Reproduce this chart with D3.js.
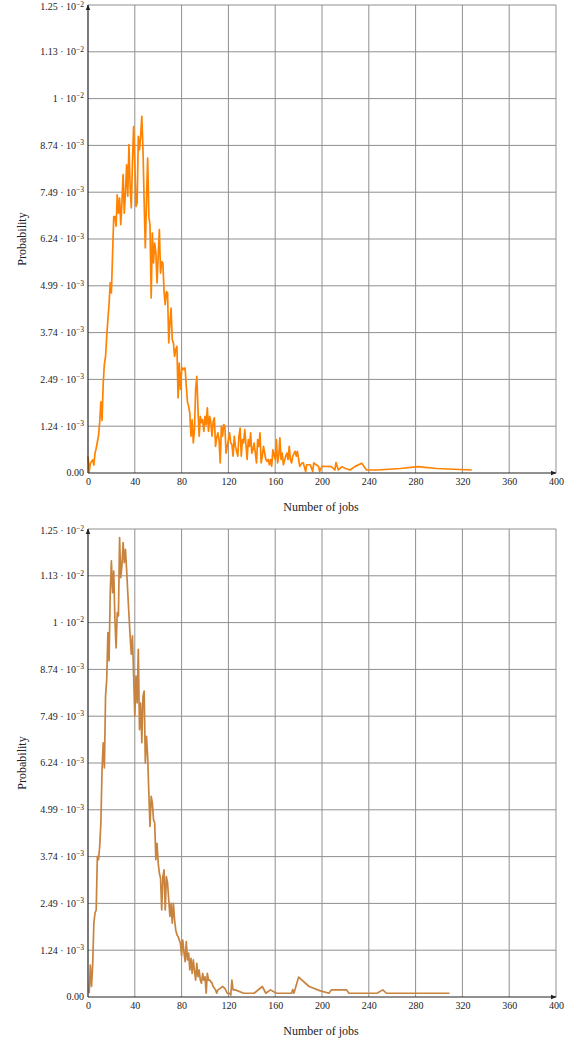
<!DOCTYPE html>
<html>
<head>
<meta charset="utf-8">
<script src="https://cdn.jsdelivr.net/npm/d3@7"></script>
<style>
  body { margin: 0; background: #fff; }
  svg text { font-family: "Liberation Serif", "DejaVu Serif", serif; fill: #222; }
</style>
</head>
<body>
<script>
// values; probabilities are in units of 1e-3

// upper plot (orange)
var jobsA = [0,1,2,4,5,6,7,9,10,11,
  12,13,14,15,16,17,18,19,20,22,
  23,24,25,26,27,28,29,30,31,32,
  33,34,35,36,37,38,39,40,41,42,
  43,44,45,46,47,48,49,50,51,52,
  53,54,55,56,57,58,59,60,61,62,
  63,64,65,66,67,68,69,70,71,72,
  73,74,75,76,77,78,79,80,81,82,
  83,84,85,86,87,88,89,90,91,92,
  93,94,95,96,97,98,99,100,101,102,
  103,104,105,106,107,108,109,110,111,112,
  113,114,115,116,117,118,120,121,122,123,
  124,125,126,128,129,130,131,132,133,134,
  136,137,138,139,140,141,142,144,145,146,
  147,148,149,150,152,153,154,155,156,157,
  158,160,161,162,163,164,165,166,167,169,
  170,171,172,173,174,175,177,178,179,180,
  181,183,184,186,187,190,192,193,195,197,
  198,200,208,211,212,214,217,220,224,228,
  234,238,247,267,282,298,328];
var probA = [0.44,0.02,0.26,0.35,0.21,0.53,0.66,1.0,1.35,1.9,
  1.4,2.4,2.9,3.1,3.64,4.1,4.5,5.07,4.8,6.84,
  6.84,6.58,7.42,6.93,7.33,6.62,7.2,7.96,6.93,7.47,
  8.22,7.38,8.76,7.64,7.07,8.27,9.24,8.27,7.11,7.2,
  8.98,8.62,8.98,9.51,8.62,7.2,6.0,7.29,8.4,6.84,
  6.6,4.67,6.4,5.6,6.13,5.87,5.07,5.78,6.49,5.33,
  5.64,5.6,4.84,4.49,4.84,4.8,3.47,4.0,4.4,3.56,
  3.47,3.11,3.29,3.38,2.0,2.93,2.23,2.72,2.8,2.76,
  2.8,2.32,1.9,1.78,1.6,0.98,1.42,0.8,1.16,2.23,
  2.58,1.69,0.98,1.51,1.34,1.42,1.11,1.51,1.29,1.74,
  1.11,1.51,1.34,0.98,1.38,1.47,0.71,0.94,1.07,0.89,
  0.27,1.25,0.98,1.29,1.25,0.53,0.89,1.07,0.8,0.76,
  0.45,0.98,0.71,0.45,0.98,1.2,0.45,0.89,0.8,1.16,
  0.36,0.89,0.71,1.07,0.53,0.62,0.8,0.27,0.89,0.71,
  1.07,0.27,0.45,0.71,0.36,0.31,0.36,0.22,0.36,0.18,
  0.62,0.36,0.89,0.27,0.45,0.94,0.36,0.53,0.22,0.45,
  0.53,0.36,0.71,0.36,0.27,0.45,0.58,0.45,0.58,0.36,
  0.18,0.27,0.27,0.04,0.22,0.22,0.04,0.27,0.22,0.18,
  0.04,0.18,0.17,0.08,0.28,0.08,0.17,0.12,0.08,0.17,
  0.26,0.08,0.08,0.12,0.17,0.12,0.08];

// lower plot (brown)
var jobsB = [1,2,3,4,5,6,7,8,9,10,
  11,12,13,14,15,16,17,18,19,20,
  21,22,23,24,25,26,27,28,29,30,
  31,32,33,34,35,36,37,38,39,40,
  41,42,43,44,45,46,47,48,49,50,
  51,52,53,54,55,56,57,58,59,60,
  61,62,63,64,65,66,67,68,69,70,
  71,72,73,74,75,76,77,78,79,80,
  81,82,83,84,85,86,87,88,89,90,
  91,92,93,94,95,96,97,98,99,100,
  101,102,103,104,106,107,109,110,111,113,
  115,117,119,121,122,123,124,126,133,142,
  149,152,156,161,174,175,176,180,189,198,
  206,208,221,223,247,252,255,309];
var probB = [0.1,0.85,0.28,0.85,1.97,2.24,2.32,3.75,3.66,4.02,
  4.64,6.06,6.78,6.11,8.02,8.47,9.72,8.96,10.78,11.63,
  10.78,11.36,10.07,9.31,10.25,10.16,12.25,11.18,11.5,12.12,
  11.58,11.94,11.4,10.78,10.2,9.63,9.14,9.63,8.56,7.49,
  8.56,7.84,9.27,7.13,7.84,6.78,8.02,8.16,6.24,6.95,
  6.42,5.44,4.55,5.35,5.17,4.73,4.64,3.66,4.1,3.57,
  3.3,3.17,2.32,3.21,3.39,2.32,3.21,3.04,2.59,2.15,
  2.5,1.97,2.5,2.06,1.79,1.66,1.61,1.52,1.43,1.1,
  1.52,1.2,0.94,1.48,0.99,1.17,0.72,1.03,0.63,0.99,
  0.7,0.45,0.9,0.54,0.72,0.45,0.37,0.63,0.45,0.54,
  0.1,0.63,0.45,0.45,0.37,0.28,0.19,0.1,0.19,0.23,
  0.28,0.23,0.1,0.1,0.05,0.45,0.19,0.19,0.1,0.1,
  0.28,0.1,0.19,0.1,0.1,0.2,0.1,0.53,0.28,0.17,
  0.1,0.19,0.19,0.1,0.1,0.19,0.1,0.1];

var xTicks = [0, 40, 80, 120, 160, 200, 240, 280, 320, 360, 400];
var yTicks = [0, 1.248, 2.496, 3.744, 4.992, 6.24, 7.488, 8.736, 9.984, 11.232, 12.48];
var yTickMantissa = ["0.00", "1.24 \u00b7 10", "2.49 \u00b7 10", "3.74 \u00b7 10", "4.99 \u00b7 10",
  "6.24 \u00b7 10", "7.49 \u00b7 10", "8.74 \u00b7 10", "1 \u00b7 10", "1.13 \u00b7 10", "1.25 \u00b7 10"];
var yTickExp = ["", "\u22123", "\u22123", "\u22123", "\u22123", "\u22123", "\u22123", "\u22123", "\u22122", "\u22122", "\u22122"];

var serif = "Liberation Serif, DejaVu Serif, serif";

var svg = d3.select("body").append("svg")
  .attr("width", 578).attr("height", 1043)
  .attr("font-family", serif);

var defs = svg.append("defs");
defs.append("marker")
  .attr("id", "arrow")
  .attr("viewBox", "0 0 10 10")
  .attr("refX", 9).attr("refY", 5)
  .attr("markerWidth", 5).attr("markerHeight", 5)
  .attr("orient", "auto")
  .append("path")
  .attr("d", "M0,1 L10,5 L0,9 z")
  .attr("fill", "#222");

var Chart = function(top, jobs, prob, colour) {
  var self = this;
  self.width = 468;
  self.height = 468;
  self.g = svg.append("g").attr("transform", "translate(88," + top + ")");

  self.x = d3.scaleLinear().domain([0, 400]).range([0, self.width]);
  self.y = d3.scaleLinear().domain([0, 12.48]).range([self.height, 0]);

  // grid
  self.g.selectAll(".vgrid").data(xTicks.slice(1)).enter().append("line")
    .attr("class", "vgrid")
    .attr("x1", function(d) { return self.x(d); })
    .attr("x2", function(d) { return self.x(d); })
    .attr("y1", self.y(12.48)).attr("y2", self.y(0))
    .attr("stroke", "#8f8f8f").attr("stroke-width", 1);
  self.g.selectAll(".hgrid").data(yTicks.slice(1)).enter().append("line")
    .attr("class", "hgrid")
    .attr("x1", self.x(0)).attr("x2", self.x(400))
    .attr("y1", function(d) { return self.y(d); })
    .attr("y2", function(d) { return self.y(d); })
    .attr("stroke", "#8f8f8f").attr("stroke-width", 1);

  // x axis labels
  var xAxis = d3.axisBottom(self.x).tickValues(xTicks).tickSize(0).tickPadding(5);
  var gx = self.g.append("g")
    .attr("transform", "translate(0," + self.height + ")")
    .call(xAxis)
    .attr("font-family", serif)
    .attr("font-size", 10);
  gx.select(".domain").remove();
  gx.selectAll("text").attr("fill", "#222");

  // y axis labels with exponent (top one pushed a bit down, as in the original)
  var gy = self.g.append("g");
  var lab = gy.selectAll("text").data(yTicks).enter().append("text")
    .attr("x", -4)
    .attr("y", function(d) { return Math.max(self.y(d), 2); })
    .attr("dy", "0.33em")
    .attr("text-anchor", "end")
    .attr("font-size", 10);
  lab.append("tspan").text(function(d, i) { return yTickMantissa[i]; });
  lab.append("tspan")
    .attr("dy", "-0.47em")
    .attr("font-size", 7.5)
    .text(function(d, i) { return yTickExp[i]; });

  // the curve
  var pts = jobs.map(function(d, i) { return [d, prob[i]]; });
  self.line = d3.line()
    .x(function(d) { return self.x(d[0]); })
    .y(function(d) { return self.y(d[1]); });
  self.g.append("path")
    .attr("d", self.line(pts))
    .attr("fill", "none")
    .attr("stroke", colour)
    .attr("stroke-width", 1.7)
    .attr("stroke-linejoin", "round");

  // axes with arrow heads
  self.g.append("line")
    .attr("x1", self.x(0)).attr("x2", self.x(400))
    .attr("y1", self.y(0)).attr("y2", self.y(0))
    .attr("stroke", "#222").attr("stroke-width", 1.2)
    .attr("marker-end", "url(#arrow)");
  self.g.append("line")
    .attr("x1", self.x(0)).attr("x2", self.x(0))
    .attr("y1", self.y(0)).attr("y2", self.y(12.48))
    .attr("stroke", "#222").attr("stroke-width", 1.2)
    .attr("marker-end", "url(#arrow)");

  // titles
  self.g.append("text")
    .attr("x", self.width / 2 - 1)
    .attr("y", self.height + 38)
    .attr("text-anchor", "middle")
    .attr("font-size", 12)
    .text("Number of jobs");
  self.g.append("text")
    .attr("transform", "translate(-62," + (self.height / 2) + ") rotate(-90)")
    .attr("text-anchor", "middle")
    .attr("font-size", 12)
    .text("Probability");
};

var top1 = new Chart(5, jobsA, probA, "#ff8300");
var top2 = new Chart(529, jobsB, probB, "#c8843e");
</script>
</body>
</html>
